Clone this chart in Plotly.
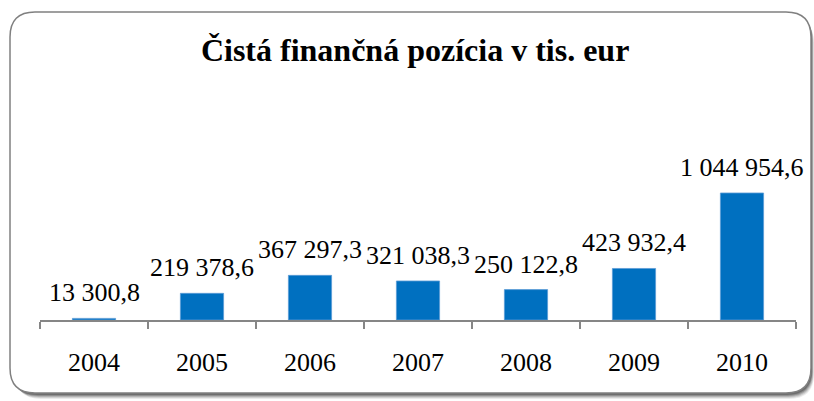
import plotly.graph_objects as go

W, H = 814, 401

years = ["2004", "2005", "2006", "2007", "2008", "2009", "2010"]
values = [13300.8, 219378.6, 367297.3, 321038.3, 250122.8, 423932.4, 1044954.6]
labels = ["13 300,8", "219 378,6", "367 297,3", "321 038,3", "250 122,8", "423 932,4", "1 044 954,6"]


def px(x, y):
    return f"{x / W:.5f},{1 - y / H:.5f}"


def rounded_path(x0, y0, x1, y1, r):
    return (
        f"M {px(x0 + r, y0)} L {px(x1 - r, y0)} Q {px(x1, y0)} {px(x1, y0 + r)} "
        f"L {px(x1, y1 - r)} Q {px(x1, y1)} {px(x1 - r, y1)} "
        f"L {px(x0 + r, y1)} Q {px(x0, y1)} {px(x0, y1 - r)} "
        f"L {px(x0, y0 + r)} Q {px(x0, y0)} {px(x0 + r, y0)} Z"
    )


shapes = []
# soft shadow at bottom right
for off, op in [(6, 0.10), (5, 0.15), (4, 0.2), (3, 0.3), (2, 0.4)]:
    shapes.append(dict(type="path", xref="paper", yref="paper", layer="below",
                       path=rounded_path(10 + off, 12 + off, 811 + off * 0.5, 393 + off, 25),
                       fillcolor=f"rgba(60,60,60,{op})", line=dict(width=0)))
shapes.append(dict(type="path", xref="paper", yref="paper", layer="below",
                   path=rounded_path(10, 12, 811, 393, 25),
                   fillcolor="white", line=dict(color="#808080", width=1.5)))

fig = go.Figure(go.Bar(
    x=years, y=values, cliponaxis=False,
    marker=dict(color="#0070C0", line=dict(color="#5B9BD5", width=0.8)),
))

# data labels above bars (x = category index)
annotations = [
    dict(x=i, y=v, text=lab, showarrow=False, yanchor="bottom", yshift=9,
         font=dict(family="Liberation Serif", size=26, color="black"))
    for i, (v, lab) in enumerate(zip(values, labels))
]

fig.update_layout(
    width=W, height=H, autosize=False,
    margin=dict(l=0, r=0, t=0, b=0),
    paper_bgcolor="white", plot_bgcolor="rgba(0,0,0,0)",
    shapes=shapes, annotations=annotations, showlegend=False, bargap=0.6,
    title=dict(text="<b>Čistá finančná pozícia v tis. eur</b>", x=0.51, xanchor="center",
               y=1 - 50 / H, yanchor="middle",
               font=dict(family="Liberation Serif", size=32, color="black")),
    xaxis=dict(domain=[40 / W, 796 / W], type="category", range=[-0.5, len(years) - 0.5],
               showline=True, linecolor="#868686",
               linewidth=1.5, ticks="outside", tickson="boundaries", ticklen=7,
               tickcolor="#868686", tickwidth=1.5, ticklabelstandoff=18, showgrid=False,
               tickfont=dict(family="Liberation Serif", size=26, color="black")),
    yaxis=dict(domain=[81 / H, 301 / H], range=[0, 1.81e6], visible=False, showgrid=False),
)

fig.write_html("out.html", config={"displayModeBar": False},
               post_script="document.body.style.margin='0px';")
